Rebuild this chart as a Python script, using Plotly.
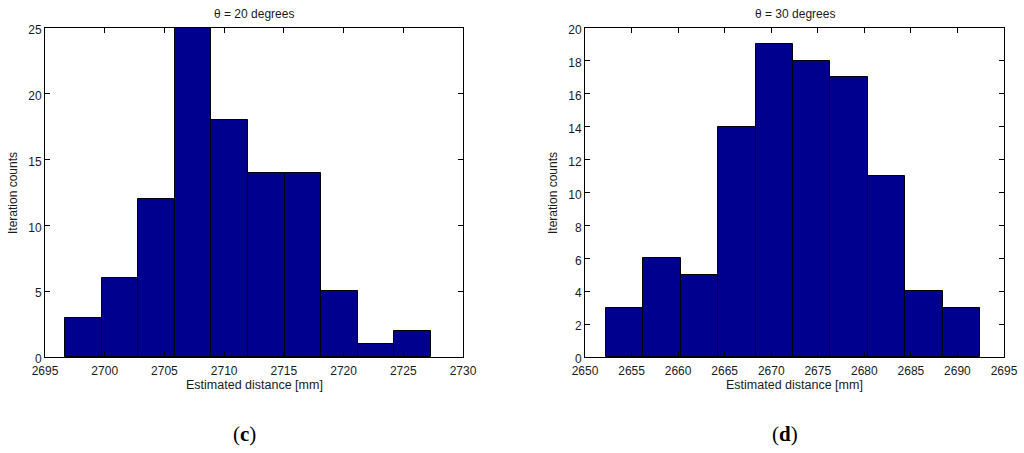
import plotly.graph_objects as go

# ---- data ----
counts_c = [3, 6, 12, 25, 18, 14, 14, 5, 1, 2]
edge0_c = 2696.67
width_c = 3.065

counts_d = [3, 6, 5, 14, 19, 18, 17, 11, 4, 3]
edge0_d = 2652.26
width_d = 4.017

xticks_c = [2695, 2700, 2705, 2710, 2715, 2720, 2725, 2730]
yticks_c = [0, 5, 10, 15, 20, 25]
xticks_d = [2650, 2655, 2660, 2665, 2670, 2675, 2680, 2685, 2690, 2695]
yticks_d = [0, 2, 4, 6, 8, 10, 12, 14, 16, 18, 20]

titles = ["θ = 20 degrees", "θ = 30 degrees"]
panel_labels = ["c", "d"]
xlabel = "Estimated distance [mm]"
ylabel = "Iteration counts"

W, H = 1024, 453
BAR = "#00008F"
FONT = "Liberation Sans, Arial, sans-serif"
TXT = "#1a1a1a"

def centers(e0, w, n):
    return [e0 + w * (i + 0.5) for i in range(n)]

fig = go.Figure()
fig.add_trace(go.Bar(x=centers(edge0_c, width_c, len(counts_c)), y=counts_c,
                     width=[width_c] * len(counts_c), marker=dict(color=BAR, line=dict(color="black", width=1)),
                     xaxis="x", yaxis="y", showlegend=False, hoverinfo="x+y"))
fig.add_trace(go.Bar(x=centers(edge0_d, width_d, len(counts_d)), y=counts_d,
                     width=[width_d] * len(counts_d), marker=dict(color=BAR, line=dict(color="black", width=1)),
                     xaxis="x2", yaxis="y2", showlegend=False, hoverinfo="x+y"))

def px_x(p):
    return p / W

def px_y(p):
    return 1 - p / H

ydom = [px_y(357), px_y(28)]
axis_common = dict(showline=True, linecolor="black", linewidth=1, mirror="ticks",
                   ticks="inside", ticklen=5, tickcolor="black", showgrid=False,
                   zeroline=False, automargin=False,
                   tickfont=dict(family=FONT, size=12, color=TXT))

fig.update_layout(
    template="none",
    width=W, height=H, margin=dict(l=0, r=0, t=0, b=0, pad=0),
    paper_bgcolor="white", plot_bgcolor="white", bargap=0,
    xaxis=dict(domain=[px_x(45), px_x(463)], range=[xticks_c[0], xticks_c[-1]],
               tickvals=xticks_c, anchor="y", ticklabelstandoff=3, **axis_common),
    yaxis=dict(domain=ydom, range=[yticks_c[0], yticks_c[-1]], tickvals=yticks_c, anchor="x",
               ticklabelshift=2, **axis_common),
    xaxis2=dict(domain=[px_x(585), px_x(1004)], range=[xticks_d[0], xticks_d[-1]],
                tickvals=xticks_d, anchor="y2", ticklabelstandoff=3, **axis_common),
    yaxis2=dict(domain=ydom, range=[yticks_d[0], yticks_d[-1]], tickvals=yticks_d, anchor="x2",
                ticklabelshift=2, **axis_common),
)

anns = []
for i, (x0, x1) in enumerate([(45, 463), (585, 1004)]):
    cx = (x0 + x1) / 2
    anns.append(dict(text=titles[i], x=px_x(cx), y=px_y(14), xref="paper", yref="paper",
                     showarrow=False, font=dict(family=FONT, size=12, color=TXT),
                     xanchor="center", yanchor="middle"))
    anns.append(dict(text=xlabel, x=px_x(cx), y=px_y(385), xref="paper", yref="paper",
                     showarrow=False, font=dict(family=FONT, size=12.5, color=TXT),
                     xanchor="center", yanchor="middle"))
    anns.append(dict(text="(<b>" + panel_labels[i] + "</b>)", x=px_x(cx - 10), y=px_y(434),
                     xref="paper", yref="paper", showarrow=False,
                     font=dict(family="Liberation Serif, Times New Roman, serif", size=21, color="black"),
                     xanchor="center", yanchor="middle"))
for x in (13, 553):
    anns.append(dict(text=ylabel, x=px_x(x), y=px_y(193), xref="paper", yref="paper", textangle=-90,
                     showarrow=False, font=dict(family=FONT, size=12, color=TXT),
                     xanchor="center", yanchor="middle"))
fig.update_layout(annotations=anns)

fig.write_html("out.html", config={"displayModeBar": False},
               post_script="document.body.style.margin='0';document.body.style.padding='0';")
